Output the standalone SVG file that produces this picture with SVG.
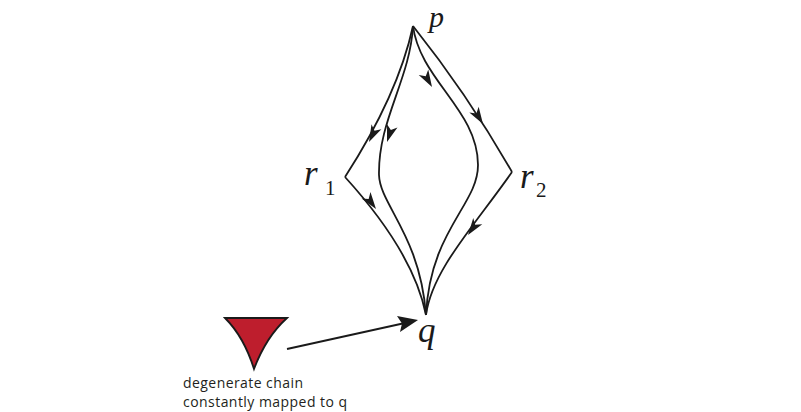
<svg xmlns="http://www.w3.org/2000/svg" width="801" height="412" viewBox="0 0 801 412">
<style>
.c{fill:none;stroke:#1a1a1a;stroke-width:1.8;stroke-linejoin:miter}
.m{font-family:"Liberation Serif","DejaVu Serif",serif;font-style:italic;fill:#1a1a1a}
.s{font-family:"Liberation Serif","DejaVu Serif",serif;fill:#1a1a1a}
.t{font-family:"Open Sans","Noto Sans",sans-serif;font-size:14px;fill:#231f20}
</style>
<defs>
<path id="ah" d="M0,0 L-17,-5.5 L-12.5,0 L-17,5.5 Z" fill="#1a1a1a"/>
</defs>
<rect width="801" height="412" fill="#ffffff"/>
<g id="connectors">
<path class="c" d="M413,26 Q398,95 345,177"/>
<path class="c" d="M345,177 C375,210 415,260 426,315"/>
<path class="c" d="M413,26 C410,80 378,120 379,175 C380,205 420,235 426,315"/>
<path class="c" d="M413,26 C420,80 478,110 478,165 C478,205 430,230 426,315"/>
<path class="c" d="M413,26 Q468,95 512,172"/>
<path class="c" d="M512,172 C475,225 432,270 426,315"/>
<use href="#ah" transform="translate(369,142) rotate(116)"/>
<use href="#ah" transform="translate(376,209) rotate(54)"/>
<use href="#ah" transform="translate(387,142) rotate(108)"/>
<use href="#ah" transform="translate(432,87) rotate(60)"/>
<use href="#ah" transform="translate(483,124) rotate(58)"/>
<use href="#ah" transform="translate(468,235) rotate(125)"/>
<path class="c" d="M287,349 L405,323" stroke-width="2"/>
<path d="M418,320 L397,316 L402,323.5 L400,332 Z" fill="#1a1a1a"/>
</g>
<g id="node-p"><text class="m" x="429" y="27" font-size="30">p</text></g>
<g id="node-r1"><text class="m" x="304" y="185" font-size="35">r</text><text class="s" x="325" y="195" font-size="21">1</text></g>
<g id="node-r2"><text class="m" x="520" y="188" font-size="35">r</text><text class="s" x="536" y="197" font-size="21">2</text></g>
<g id="node-q"><text class="m" x="418" y="342" font-size="35">q</text></g>
<g id="node-chain">
<path d="M225,318 L287,318 Q266,337 254,369 Q244,337 225,318 Z" fill="#be1e2d" stroke="#1a1a1a" stroke-width="1.8" stroke-linejoin="miter"/>
<text class="t" x="183" y="388" textLength="120" lengthAdjust="spacing">degenerate chain</text>
<text class="t" x="183" y="407" textLength="164" lengthAdjust="spacing">constantly mapped to q</text>
</g>
</svg>
